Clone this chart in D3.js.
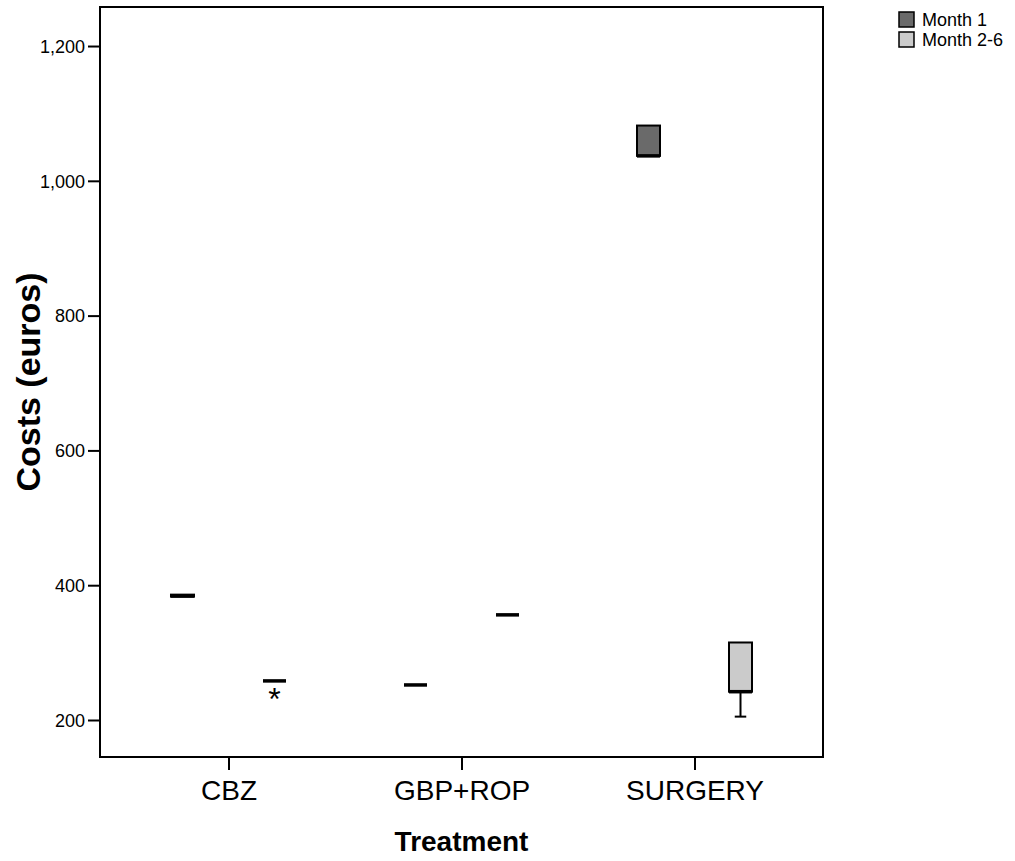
<!DOCTYPE html>
<html>
<head>
<meta charset="utf-8">
<script src="https://cdn.jsdelivr.net/npm/d3@7"></script>
<style>
  html, body { margin: 0; padding: 0; background: #fff; }
  svg { display: block; font-family: "Liberation Sans", Arial, sans-serif; }
</style>
</head>
<body>
<svg id="chart" width="1015" height="861"></svg>
<script>
// Treatment groups and follow-up periods
const categories = ["CBZ", "GBP+ROP", "SURGERY"];
const months = ["Month 1", "Month 2-6"];
const monthColors = ["#6a6a6a", "#cbcbcb"];

// Box statistics (euros), one entry per treatment
const month1Min    = [383, 252, 1037];
const month1Q1     = [383, 252, 1037];
const month1Median = [384, 252, 1037];
const month1Q3     = [386, 252, 1082];
const month1Max    = [386, 252, 1082];
const month1Outliers = [[], [], []];

const month26Min    = [258, 356, 205];
const month26Q1     = [258, 356, 242];
const month26Median = [258, 356, 242];
const month26Q3     = [258, 356, 315];
const month26Max    = [258, 356, 315];
const month26Outliers = [[241], [], []];

const yTicks = [200, 400, 600, 800, 1000, 1200];

// Build per-box records for drawing
const boxes = [];
categories.forEach((c, i) => {
  boxes.push({ cat: c, month: months[0], min: month1Min[i], q1: month1Q1[i], med: month1Median[i], q3: month1Q3[i], max: month1Max[i], out: month1Outliers[i] });
  boxes.push({ cat: c, month: months[1], min: month26Min[i], q1: month26Q1[i], med: month26Median[i], q3: month26Q3[i], max: month26Max[i], out: month26Outliers[i] });
});

const svg = d3.select("#chart");
const plot = { left: 100, right: 823, top: 7, bottom: 757 };

const x0 = d3.scalePoint().domain(categories).range([plot.left, plot.right]).padding(0.5515);
const x1 = d3.scaleBand().domain(months).range([-57.5, 57.5]).paddingInner(0.75);
const y = d3.scaleLinear().domain([145.1, 1257.9]).range([plot.bottom, plot.top]);
const color = d3.scaleOrdinal().domain(months).range(monthColors);

// Y axis
const yAxis = d3.axisLeft(y).tickValues(yTicks).tickFormat(d3.format(",")).tickSize(12).tickPadding(3);
const gy = svg.append("g").attr("transform", `translate(${plot.left},0)`).call(yAxis);
gy.select(".domain").remove();
gy.selectAll(".tick line").attr("stroke", "#000").attr("stroke-width", 2);
gy.selectAll(".tick text").attr("fill", "#000").style("font-size", "18px").attr("dy", "0.35em");

// X axis
const xAxis = d3.axisBottom(x0).tickSize(13).tickPadding(10);
const gx = svg.append("g").attr("transform", `translate(0,${plot.bottom})`).call(xAxis);
gx.select(".domain").remove();
gx.selectAll(".tick line").attr("stroke", "#000").attr("stroke-width", 2);
gx.selectAll(".tick text").attr("fill", "#000").style("font-size", "28px");

// Plot frame
svg.append("rect")
  .attr("x", plot.left).attr("y", plot.top)
  .attr("width", plot.right - plot.left).attr("height", plot.bottom - plot.top)
  .attr("fill", "none").attr("stroke", "#000").attr("stroke-width", 2);

// Boxes
const bw = x1.bandwidth();
const g = svg.append("g");
boxes.forEach(b => {
  const cx = x0(b.cat) + x1(b.month) + bw / 2;
  const left = cx - bw / 2;
  const capW = bw / 2;
  // whiskers
  if (b.min < b.q1) {
    g.append("line").attr("x1", cx).attr("x2", cx).attr("y1", y(b.q1)).attr("y2", y(b.min)).attr("stroke", "#000").attr("stroke-width", 2);
    g.append("line").attr("x1", cx - capW / 2).attr("x2", cx + capW / 2).attr("y1", y(b.min)).attr("y2", y(b.min)).attr("stroke", "#000").attr("stroke-width", 2);
  }
  if (b.max > b.q3) {
    g.append("line").attr("x1", cx).attr("x2", cx).attr("y1", y(b.q3)).attr("y2", y(b.max)).attr("stroke", "#000").attr("stroke-width", 2);
    g.append("line").attr("x1", cx - capW / 2).attr("x2", cx + capW / 2).attr("y1", y(b.max)).attr("y2", y(b.max)).attr("stroke", "#000").attr("stroke-width", 2);
  }
  // box
  g.append("rect")
    .attr("x", left).attr("y", y(b.q3))
    .attr("width", bw).attr("height", Math.max(0, y(b.q1) - y(b.q3)))
    .attr("fill", color(b.month)).attr("stroke", "#000").attr("stroke-width", 2);
  // median
  g.append("line").attr("x1", left).attr("x2", left + bw).attr("y1", y(b.med)).attr("y2", y(b.med))
    .attr("stroke", "#000").attr("stroke-width", 3.5);
  // extreme values
  b.out.forEach(v => {
    g.append("text").attr("x", cx).attr("y", y(v)).attr("text-anchor", "middle")
      .attr("dy", "0.55em").style("font-size", "32px").text("*");
  });
});

// Axis titles
svg.append("text")
  .attr("transform", `translate(40,${(plot.top + plot.bottom) / 2}) rotate(-90)`)
  .attr("text-anchor", "middle").style("font-size", "34px").style("font-weight", "bold")
  .text("Costs (euros)");
svg.append("text")
  .attr("x", x0("GBP+ROP")).attr("y", 851)
  .attr("text-anchor", "middle").style("font-size", "28px").style("font-weight", "bold")
  .text("Treatment");

// Legend
const legend = svg.append("g").attr("transform", "translate(899,12)");
months.forEach((m, i) => {
  const row = legend.append("g").attr("transform", `translate(0,${i * 20})`);
  row.append("rect").attr("width", 15).attr("height", 15)
    .attr("fill", color(m)).attr("stroke", "#000").attr("stroke-width", 1.5);
  row.append("text").attr("x", 23).attr("y", 14).style("font-size", "18px").text(m);
});
</script>
</body>
</html>
